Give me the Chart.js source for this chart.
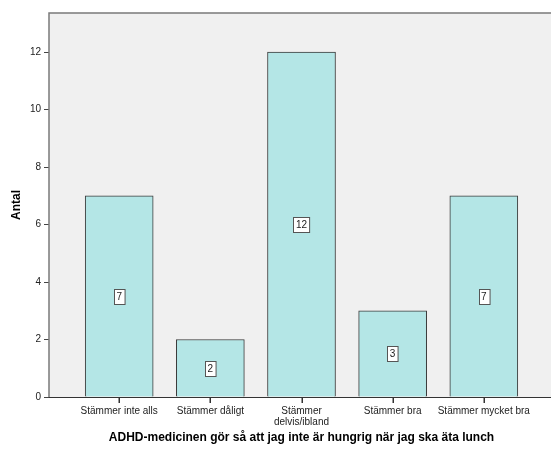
<!DOCTYPE html>
<html>
<head>
<meta charset="utf-8">
<script src="https://cdn.jsdelivr.net/npm/chart.js@4/dist/chart.umd.min.js"></script>
<style>
  html, body { margin: 0; padding: 0; background: #ffffff; overflow: hidden; }
  #wrap { width: 554px; height: 449px; }
</style>
</head>
<body>
<div id="wrap"><canvas id="c" width="554" height="449"></canvas></div>
<script>
// Response categories and counts
const categories = [
  "Stämmer inte alls",
  "Stämmer dåligt",
  ["Stämmer", "delvis/ibland"],
  "Stämmer bra",
  "Stämmer mycket bra"
];
const counts = [7, 2, 12, 3, 7];
const yTicks = [0, 2, 4, 6, 8, 10, 12];
const xTitle = "ADHD-medicinen gör så att jag inte är hungrig när jag ska äta lunch";
const yTitle = "Antal";

const FONT = "'Liberation Sans', Arial, sans-serif";

// Plot panel background, frame and category tick marks
const panelPlugin = {
  id: 'panel',
  beforeDatasetsDraw(chart) {
    const {ctx, chartArea: a} = chart;
    ctx.save();
    ctx.fillStyle = '#f0f0f0';
    ctx.fillRect(a.left, a.top, a.right - a.left, a.bottom - a.top);
    ctx.restore();
  },
  afterDraw(chart) {
    const {ctx, chartArea: a} = chart;
    const xScale = chart.scales.x;
    ctx.save();
    ctx.strokeStyle = '#7a7a7a';
    ctx.lineWidth = 1.5;
    ctx.beginPath();
    ctx.moveTo(a.left, a.bottom);
    ctx.lineTo(a.left, a.top);
    ctx.lineTo(a.right, a.top);
    ctx.stroke();
    ctx.strokeStyle = '#333';
    ctx.lineWidth = 1;
    ctx.beginPath();
    ctx.moveTo(a.left, a.bottom + 0.5);
    ctx.lineTo(a.right, a.bottom + 0.5);
    ctx.stroke();
    // category tick marks below the axis
    ctx.fillStyle = '#333';
    categories.forEach((_, i) => {
      const px = Math.round(xScale.getPixelForValue(i));
      ctx.fillRect(px - 0.5, a.bottom, 1.5, 6);
    });
    ctx.restore();
  }
};

// Boxed count labels in the middle of each bar
const valueBoxPlugin = {
  id: 'valueBoxes',
  afterDatasetsDraw(chart) {
    const {ctx} = chart;
    const meta = chart.getDatasetMeta(0);
    const yScale = chart.scales.y;
    ctx.save();
    ctx.font = '10px ' + FONT;
    ctx.textAlign = 'center';
    ctx.textBaseline = 'middle';
    meta.data.forEach((bar, i) => {
      const v = counts[i];
      const cy = yScale.getPixelForValue(v / 2);
      const txt = String(v);
      const w = ctx.measureText(txt).width + 5;
      const h = 15;
      const x = Math.round(bar.x - w / 2) + 0.5;
      const y = Math.round(cy - h / 2) + 0.5;
      ctx.fillStyle = '#ffffff';
      ctx.fillRect(x, y, w, h);
      ctx.strokeStyle = '#555';
      ctx.lineWidth = 1;
      ctx.strokeRect(x, y, w, h);
      ctx.fillStyle = '#222';
      ctx.fillText(txt, bar.x, cy + 0.5);
    });
    ctx.restore();
  }
};

new Chart(document.getElementById('c'), {
  type: 'bar',
  data: {
    datasets: [{
      data: counts.map((v, i) => ({x: i, y: v})),
      backgroundColor: '#b4e6e6',
      borderColor: '#3a3a3a',
      borderWidth: 1,
      borderSkipped: 'bottom',
      barThickness: 68
    }]
  },
  options: {
    responsive: false,
    animation: false,
    layout: { padding: { top: 13, left: 0, right: 0, bottom: 0 } },
    plugins: { legend: { display: false }, tooltip: { enabled: false } },
    scales: {
      x: {
        type: 'linear',
        offset: false,
        min: -0.77,
        max: 4.77,
        afterBuildTicks(scale) {
          scale.ticks = categories.map((_, i) => ({value: i}));
        },
        afterFit(scale) { scale.height = 52; },
        grid: { display: false, tickLength: 5 },
        border: { display: false },
        ticks: {
          autoSkip: false,
          maxRotation: 0,
          padding: 4,
          color: '#222',
          font: { family: FONT, size: 10, lineHeight: 1.1 },
          callback: (v) => categories[v]
        },
        title: {
          display: true,
          text: xTitle,
          color: '#000',
          font: { family: FONT, size: 12, weight: 'bold' },
          padding: { top: 0, bottom: 4 }
        }
      },
      y: {
        min: 0,
        max: 13.36,
        afterBuildTicks(scale) {
          scale.ticks = yTicks.map(v => ({value: v}));
        },
        afterFit(scale) { scale.width = 49; },
        grid: { drawOnChartArea: false, drawTicks: true, tickLength: 5, color: '#444' },
        border: { display: false },
        ticks: {
          padding: 3,
          color: '#222',
          font: { family: FONT, size: 10 }
        },
        title: {
          display: true,
          text: yTitle,
          color: '#000',
          font: { family: FONT, size: 12, weight: 'bold' },
          padding: { top: 9, bottom: 0 }
        }
      }
    }
  },
  plugins: [panelPlugin, valueBoxPlugin]
});
</script>
</body>
</html>
